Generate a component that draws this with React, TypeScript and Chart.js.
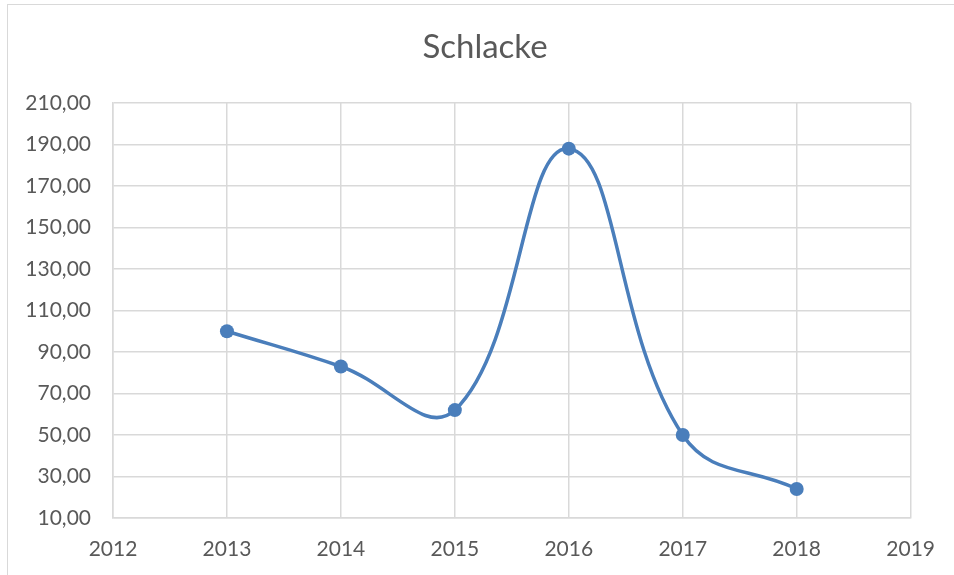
import React, { useEffect, useRef } from "react";
import { Chart, registerables } from "chart.js";

Chart.register(...registerables);

const TITLE = "Schlacke";
const YEARS = [2013, 2014, 2015, 2016, 2017, 2018];
const VALUES = [100, 83, 62, 188, 50, 24];
const X_MIN = 2012;
const X_MAX = 2019;
const Y_MIN = 10;
const Y_MAX = 210;
const Y_STEP = 20;

const LINE_COLOR = "#4a7ebb";
const GRID_COLOR = "#d9d9d9";
const TEXT_COLOR = "#595959";
const FONT = "Lato, 'Open Sans', sans-serif";

const titlePlugin = {
  id: "centerTitle",
  afterDraw(chart: any) {
    const ctx = chart.ctx;
    ctx.save();
    ctx.fillStyle = TEXT_COLOR;
    ctx.font = `33px ${FONT}`;
    ctx.textAlign = "center";
    ctx.textBaseline = "alphabetic";
    ctx.fillText(TITLE, 485, 58);
    ctx.restore();
  },
};

export default function App() {
  const ref = useRef<HTMLCanvasElement | null>(null);

  useEffect(() => {
    if (!ref.current) return;
    const chart = new Chart(ref.current, {
      type: "line",
      data: {
        datasets: [
          {
            label: TITLE,
            data: YEARS.map((y, i) => ({ x: y, y: VALUES[i] })),
            borderColor: LINE_COLOR,
            backgroundColor: LINE_COLOR,
            borderWidth: 3.5,
            pointRadius: 7,
            pointHoverRadius: 7,
            pointBorderWidth: 0,
            tension: 0.42,
            fill: false,
          },
        ],
      },
      options: {
        responsive: false,
        animation: false,
        layout: { padding: { left: 0, right: 42, top: 103, bottom: 0 } },
        plugins: {
          legend: { display: false },
          tooltip: { enabled: false },
          title: { display: false },
        },
        scales: {
          x: {
            type: "linear",
            min: X_MIN,
            max: X_MAX,
            grid: { color: GRID_COLOR, drawTicks: false, lineWidth: 1.5 },
            border: { color: GRID_COLOR, width: 1.5 },
            ticks: {
              stepSize: 1,
              padding: 19,
              color: TEXT_COLOR,
              font: { family: FONT, size: 21 },
              callback: (v: any) => String(v),
            },
            afterFit: (s: any) => {
              s.height = 57;
            },
          },
          y: {
            min: Y_MIN,
            max: Y_MAX,
            grid: { color: GRID_COLOR, drawTicks: false, lineWidth: 1.5 },
            border: { color: GRID_COLOR, width: 1.5 },
            ticks: {
              stepSize: Y_STEP,
              padding: 22,
              color: TEXT_COLOR,
              font: { family: FONT, size: 21 },
              callback: (v: any) => Number(v).toFixed(2).replace(".", ","),
            },
            afterFit: (s: any) => {
              s.width = 113;
            },
          },
        },
      },
      plugins: [titlePlugin],
    });
    return () => chart.destroy();
  }, []);

  return (
    <div
      style={{
        position: "fixed",
        left: 0,
        top: 0,
        width: 954,
        height: 575,
        overflow: "hidden",
        background: "#fff",
      }}
    >
      <div
        style={{
          position: "absolute",
          left: 7,
          top: 4,
          width: 1100,
          height: 1100,
          border: "1.5px solid #d9d9d9",
          boxSizing: "border-box",
        }}
      />
      <canvas
        ref={ref}
        width={954}
        height={575}
        style={{ position: "absolute", left: 0, top: 0, width: 954, height: 575 }}
      />
    </div>
  );
}
